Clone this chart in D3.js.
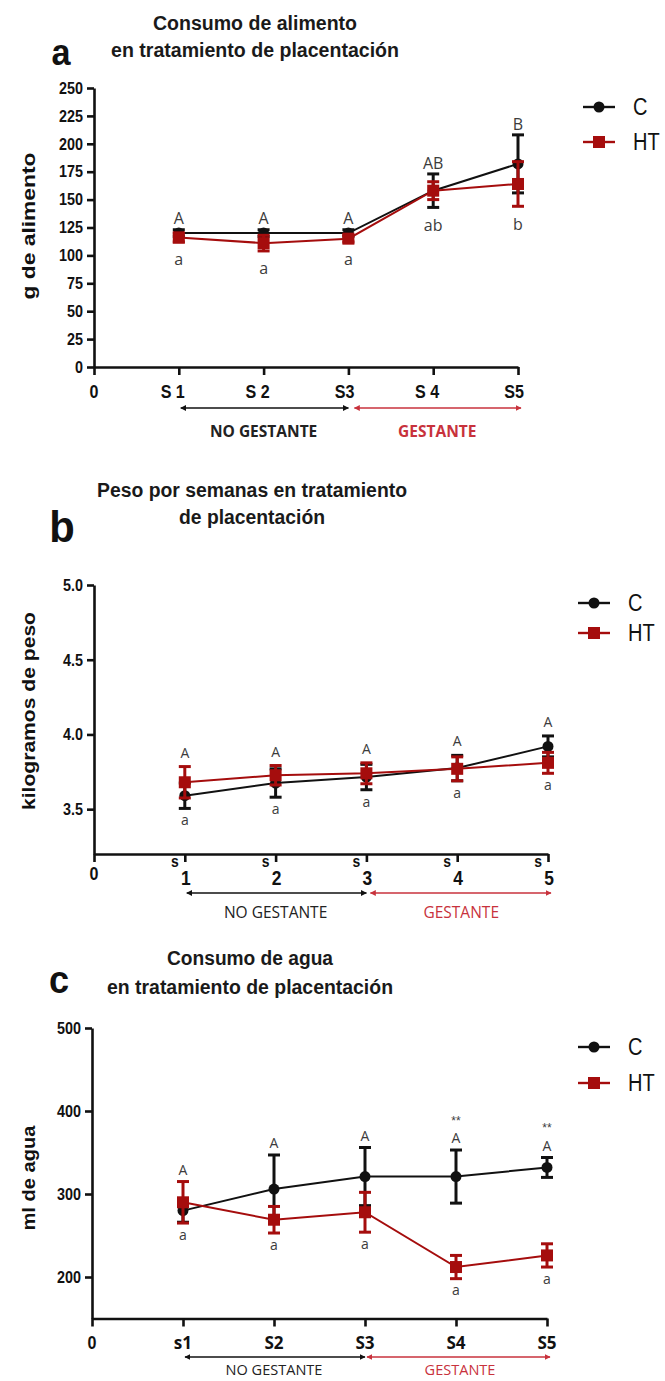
<!DOCTYPE html>
<html><head><meta charset="utf-8">
<script src="https://cdn.jsdelivr.net/npm/d3@7"></script>
<style>body{margin:0;background:#fff}svg{display:block}</style>
</head><body>
<svg id="fig" width="665" height="1381"></svg>
<script>
// ---- data -----------------------------------------------------------
const weeks = [1, 2, 3, 4, 5];

// a) food intake, grams
const foodTickLabels = ["S 1", "S 2", "S3", "S 4", "S5"];
const foodYTicks = [0, 25, 50, 75, 100, 125, 150, 175, 200, 225, 250];
const foodC = [120, 120, 120, 158, 182];
const foodCSem = [3, 3, 3, 15, 26];
const foodHT = [116, 111, 115, 158, 164];
const foodHTSem = [4, 7, 3, 8, 20];
const foodUpper = ["A", "A", "A", "AB", "B"];
const foodLower = ["a", "a", "a", "ab", "b"];

// b) body weight, kg
const weightTickDigits = ["1", "2", "3", "4", "5"];
const weightYTicks = [3.5, 4.0, 4.5, 5.0];
const weightC = [3.59, 3.675, 3.715, 3.775, 3.92];
const weightCSem = [0.085, 0.095, 0.085, 0.085, 0.07];
const weightHT = [3.68, 3.727, 3.74, 3.77, 3.81];
const weightHTSem = [0.105, 0.065, 0.07, 0.08, 0.07];
const weightUpper = ["A", "A", "A", "A", "A"];
const weightLower = ["a", "a", "a", "a", "a"];

// c) water intake, ml
const waterTickLabels = ["s1", "S2", "S3", "S4", "S5"];
const waterYTicks = [200, 300, 400, 500];
const waterC = [280, 306, 321, 321, 332];
const waterCSem = [14, 41, 35, 32, 12];
const waterHT = [290, 269, 278, 212, 226];
const waterHTSem = [25, 16, 24, 14, 14];
const waterUpper = ["A", "A", "A", "A", "A"];
const waterStars = ["", "", "", "**", "**"];
const waterLower = ["a", "a", "a", "a", "a"];

const seriesNames = ["C", "HT"];

// ---- styles ----------------------------------------------------------
const ARIAL = "'Liberation Sans', Arial, sans-serif";
const SANS = "'Open Sans', 'Noto Sans', sans-serif";
const BLACK = "#111";
const RED = "#a50d0d";
const RED_TXT = "#c8323c";
const LETTER = "#3c3c3c";
const SX = 0.87;

const svg = d3.select("#fig");
const defs = svg.append("defs");
[["arrBlack", BLACK], ["arrRed", RED_TXT]].forEach(([id, c]) => {
  defs.append("marker").attr("id", id).attr("viewBox", "0 0 10 10")
    .attr("refX", 9).attr("refY", 5).attr("markerWidth", 6).attr("markerHeight", 6)
    .attr("markerUnits", "userSpaceOnUse").attr("orient", "auto-start-reverse")
    .append("path").attr("d", "M0,0 L10,5 L0,10 z").attr("fill", c);
});

function txt(g, x, y, s, o = {}) {
  const t = g.append("text")
    .attr("transform", `translate(${x},${y}) scale(${o.sx ?? SX},1)`)
    .attr("text-anchor", o.anchor || "middle")
    .attr("font-family", o.family || ARIAL)
    .attr("font-size", o.size || 16)
    .attr("font-weight", o.weight || "normal")
    .attr("fill", o.fill || BLACK)
    .text(s);
  if (o.len) t.attr("textLength", o.len).attr("lengthAdjust", "spacingAndGlyphs");
  return t;
}

function panel(cfg) {
  const g = svg.append("g");
  const x = d3.scaleLinear().domain([0, 5]).range(cfg.xRange);
  const y = d3.scaleLinear().domain(cfg.yDomain).range(cfg.yRange);
  const x0 = cfg.xRange[0], yBase = cfg.yRange[0];

  // titles
  cfg.title.forEach((line, i) =>
    txt(g, cfg.titleX, cfg.titleY[i], line, {size: 20, weight: "bold", sx: 1, len: cfg.titleLen[i], fill: "#1a1a1a"}));
  txt(g, cfg.letterX, cfg.letterY, cfg.letter, {size: cfg.letterSize, weight: "bold", sx: 0.95});

  // y axis
  const ya = g.append("g").attr("transform", `translate(${x0},0)`)
    .call(d3.axisLeft(y).tickValues(cfg.yTicks).tickSize(7).tickPadding(4)
      .tickSizeOuter(0).tickFormat(cfg.yFormat));
  ya.selectAll("text").attr("font-family", ARIAL).attr("font-size", 16.5)
    .attr("font-weight", "bold").attr("fill", BLACK)
    .attr("transform", function () { return `translate(${this.getAttribute("x")},0) scale(${SX},1)`; })
    .attr("x", 0);
  ya.selectAll("path,line").attr("stroke", BLACK).attr("stroke-width", 2.6);
  // vertical title
  g.append("text").attr("transform", `translate(${cfg.yTitleX},${cfg.yTitleY}) rotate(-90)`)
    .attr("text-anchor", "middle").attr("font-family", ARIAL).attr("font-size", 18)
    .attr("font-weight", "bold").attr("fill", BLACK)
    .attr("textLength", cfg.yTitleLen).attr("lengthAdjust", "spacingAndGlyphs")
    .text(cfg.yTitle);

  // x axis
  const xa = g.append("g").attr("transform", `translate(0,${yBase})`)
    .call(d3.axisBottom(x).tickValues([0].concat(weeks)).tickSize(8).tickSizeOuter(0).tickFormat(""));
  xa.selectAll("path,line").attr("stroke", BLACK).attr("stroke-width", 2.6);
  cfg.xLabels(g, x);

  // period arrows
  const ay = cfg.arrowY;
  g.append("line").attr("x1", x(1) + 2).attr("x2", x(3)).attr("y1", ay).attr("y2", ay)
    .attr("stroke", BLACK).attr("stroke-width", 1.6)
    .attr("marker-start", "url(#arrBlack)").attr("marker-end", "url(#arrBlack)");
  g.append("line").attr("x1", x(3) + cfg.arrowGap).attr("x2", x(5) + 3).attr("y1", ay).attr("y2", ay)
    .attr("stroke", RED_TXT).attr("stroke-width", 1.6)
    .attr("marker-start", "url(#arrRed)").attr("marker-end", "url(#arrRed)");
  txt(g, (x(1) + x(3)) / 2, cfg.periodY, "NO GESTANTE",
    {family: SANS, size: cfg.periodSize, weight: cfg.periodWeight, fill: "#222", sx: 0.97});
  txt(g, (x(3) + x(5)) / 2 + 4, cfg.periodY, "GESTANTE",
    {family: SANS, size: cfg.periodSize, weight: cfg.periodWeight, fill: RED_TXT, sx: 0.97});

  // series
  const series = [
    {m: cfg.c, s: cfg.cSem, color: BLACK, shape: "circle"},
    {m: cfg.ht, s: cfg.htSem, color: RED, shape: "square"}
  ];
  series.forEach(sr => {
    const pts = weeks.map((w, i) => ({w, m: sr.m[i], s: sr.s[i]}));
    g.append("path").datum(pts)
      .attr("d", d3.line().x(d => x(d.w)).y(d => y(d.m)))
      .attr("fill", "none").attr("stroke", sr.color).attr("stroke-width", 2);
    const eb = g.append("g").attr("stroke", sr.color).attr("stroke-width", 3);
    pts.forEach(d => {
      eb.append("line").attr("x1", x(d.w)).attr("x2", x(d.w))
        .attr("y1", y(d.m + d.s)).attr("y2", y(d.m - d.s));
      [d.m + d.s, d.m - d.s].forEach(v =>
        eb.append("line").attr("x1", x(d.w) - 6).attr("x2", x(d.w) + 6)
          .attr("y1", y(v)).attr("y2", y(v)));
    });
    pts.forEach(d => {
      if (sr.shape === "circle")
        g.append("circle").attr("cx", x(d.w)).attr("cy", y(d.m)).attr("r", 5.5).attr("fill", sr.color);
      else
        g.append("rect").attr("x", x(d.w) - 6).attr("y", y(d.m) - 6)
          .attr("width", 12).attr("height", 12).attr("fill", sr.color);
    });
  });

  // significance letters
  weeks.forEach((w, i) => {
    const top = Math.max(cfg.c[i] + cfg.cSem[i], cfg.ht[i] + cfg.htSem[i]);
    const bot = Math.min(cfg.c[i] - cfg.cSem[i], cfg.ht[i] - cfg.htSem[i]);
    const ty = y(top) - cfg.upGap;
    txt(g, x(w), ty + cfg.letterSz * 0.36, cfg.upper[i], {family: SANS, size: cfg.letterSz, fill: LETTER, sx: 1});
    if (cfg.stars && cfg.stars[i])
      txt(g, x(w), ty - 13, cfg.stars[i], {size: 12, fill: LETTER, sx: 1});
    const by = y(bot) + cfg.downGap;
    txt(g, x(w), by + cfg.letterSz * 0.27, cfg.lower[i], {family: SANS, size: cfg.letterSz, fill: LETTER, sx: 1});
  });

  // legend
  const lg = g.append("g");
  [[cfg.legY[0], BLACK, "circle"], [cfg.legY[1], RED, "square"]].forEach(([ly, c, shp], i) => {
    lg.append("line").attr("x1", cfg.legX).attr("x2", cfg.legX + 32).attr("y1", ly).attr("y2", ly)
      .attr("stroke", c).attr("stroke-width", 2.4);
    if (shp === "circle")
      lg.append("circle").attr("cx", cfg.legX + 16).attr("cy", ly).attr("r", 5.5).attr("fill", c);
    else
      lg.append("rect").attr("x", cfg.legX + 10).attr("y", ly - 6).attr("width", 12).attr("height", 12).attr("fill", c);
    txt(lg, cfg.legX + 50, ly + 8, seriesNames[i], {size: 23, anchor: "start"});
  });
}

// ---- panel a --------------------------------------------------------
panel({
  title: ["Consumo de alimento", "en tratamiento de placentación"],
  titleX: 255, titleY: [30, 57], titleLen: [204, 288],
  letter: "a", letterX: 61, letterY: 65, letterSize: 36,
  xRange: [94, 518], yDomain: [0, 250], yRange: [367, 88],
  yTicks: foodYTicks, yFormat: d3.format("d"),
  yTitle: "g de alimento", yTitleX: 35, yTitleY: 226, yTitleLen: 147,
  xLabels: (g, x) => {
    txt(g, x(0), 398, "0", {size: 18.5, weight: "bold"});
    weeks.forEach((w, i) => txt(g, x(w) + 6, 398, foodTickLabels[i], {size: 18.5, weight: "bold", anchor: "end"}));
  },
  arrowY: 408, arrowGap: 6, periodY: 437, periodSize: 16, periodWeight: "bold",
  c: foodC, cSem: foodCSem, ht: foodHT, htSem: foodHTSem,
  upper: foodUpper, lower: foodLower, letterSz: 16, upGap: 11, downGap: 19,
  legX: 583, legY: [107, 142]
});

// ---- panel b --------------------------------------------------------
panel({
  title: ["Peso por semanas en tratamiento", "de placentación"],
  titleX: 252, titleY: [497, 524], titleLen: [310, 146],
  letter: "b", letterX: 62, letterY: 542, letterSize: 44,
  xRange: [94, 548], yDomain: [3.2, 5.0], yRange: [854, 585],
  yTicks: weightYTicks, yFormat: d3.format(".1f"),
  yTitle: "kilogramos de peso", yTitleX: 35, yTitleY: 711, yTitleLen: 198,
  xLabels: (g, x) => {
    txt(g, x(0), 880, "0", {size: 18.5, weight: "bold"});
    weeks.forEach((w, i) => {
      txt(g, x(w) - 10, 867, "s", {size: 16, weight: "bold"});
      txt(g, x(w) + 1, 885, weightTickDigits[i], {size: 20, weight: "bold"});
    });
  },
  arrowY: 893, arrowGap: 4, periodY: 918, periodSize: 16, periodWeight: "normal",
  c: weightC, cSem: weightCSem, ht: weightHT, htSem: weightHTSem,
  upper: weightUpper, lower: weightLower, letterSz: 14, upGap: 14, downGap: 13,
  legX: 578, legY: [603, 633]
});

// ---- panel c --------------------------------------------------------
panel({
  title: ["Consumo de agua", "en tratamiento de placentación"],
  titleX: 250, titleY: [965, 994], titleLen: [166, 286],
  letter: "c", letterX: 59, letterY: 993, letterSize: 38,
  xRange: [92, 547], yDomain: [150, 500], yRange: [1318.5, 1028],
  yTicks: waterYTicks, yFormat: d3.format("d"),
  yTitle: "ml de agua", yTitleX: 35, yTitleY: 1178, yTitleLen: 105,
  xLabels: (g, x) => {
    txt(g, x(0), 1349, "0", {size: 18.5, weight: "bold"});
    weeks.forEach((w, i) => txt(g, x(w), 1349, waterTickLabels[i], {family: SANS, size: 18, weight: "bold", sx: 0.95}));
  },
  arrowY: 1357, arrowGap: 2, periodY: 1375, periodSize: 15, periodWeight: "normal",
  c: waterC, cSem: waterCSem, ht: waterHT, htSem: waterHTSem,
  upper: waterUpper, stars: waterStars, lower: waterLower, letterSz: 14, upGap: 12, downGap: 13,
  legX: 578, legY: [1047, 1083]
});
</script>
</body></html>
